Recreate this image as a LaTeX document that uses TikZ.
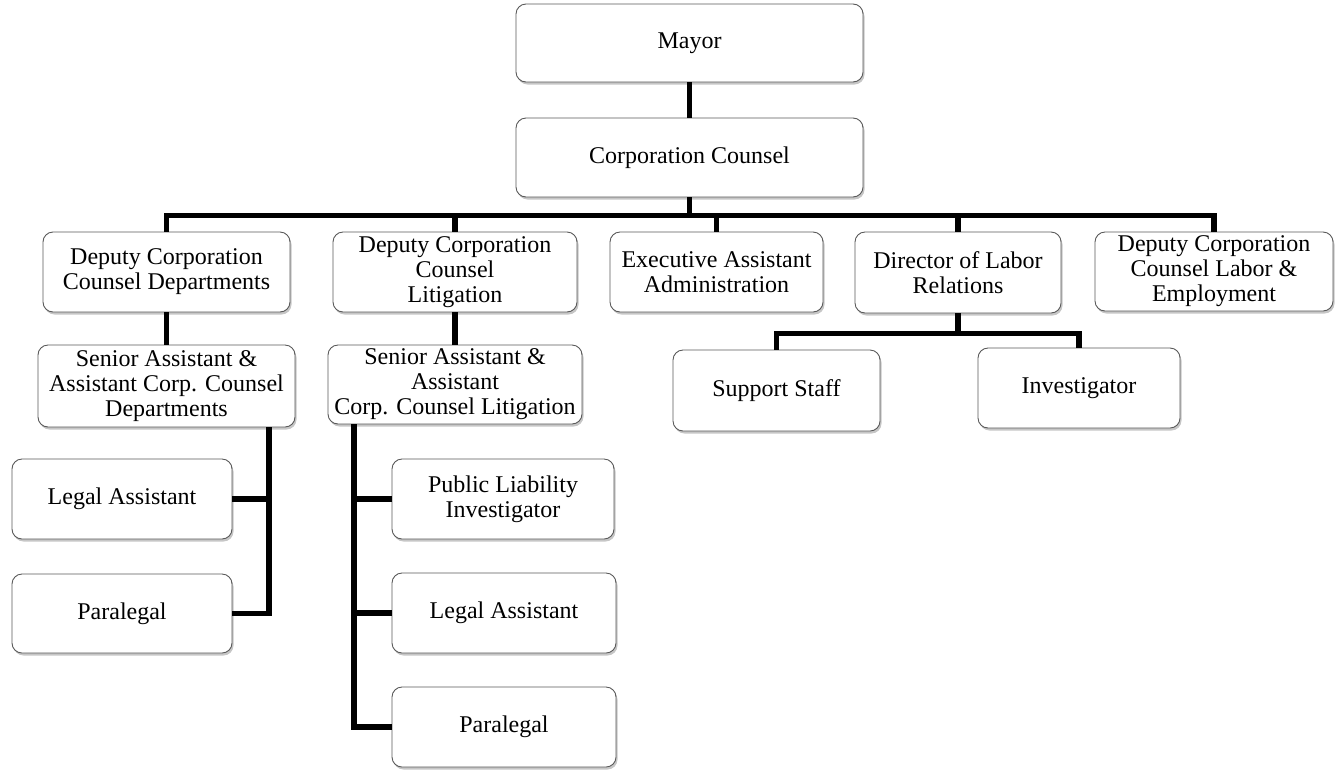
\documentclass[tikz,border=0pt]{standalone}
\usepackage{fontspec}
\setmainfont{Liberation Serif}
\usetikzlibrary{shadows}
\tikzset{
  box/.style={draw=gray!70!black, line width=0.9pt, rounded corners=10pt, fill=white,
    align=center, inner sep=2pt, font=\fontsize{24}{25}\selectfont,
    drop shadow={shadow xshift=1.5pt, shadow yshift=-2.5pt, opacity=0.45, fill=gray}},
  link/.style={line width=5.5pt, line join=miter, black}
}
\newcommand{\bx}[6]{\node[box, minimum width=#4pt, minimum height=#5pt] (#1) at (#2pt,-#3pt) {#6};}
\begin{document}
\begin{tikzpicture}
\useasboundingbox (0,0) rectangle (1335pt,-769pt);
\bx{mayor}{689.5}{43}{347}{78}{Mayor}
\bx{cc}{689.5}{157.5}{347}{79}{Corporation Counsel}
\bx{depdept}{166.5}{272}{247}{80}{Deputy Corporation\\Counsel Departments}
\bx{deplit}{455}{272}{244}{80}{Deputy Corporation\\Counsel\\Litigation}
\bx{exec}{716.5}{272}{213}{80}{Executive Assistant\\Administration}
\bx{dir}{958}{272.5}{206}{81}{Director of Labor\\Relations}
\bx{deplab}{1214}{271.5}{238}{79}{Deputy Corporation\\Counsel Labor \&\\Employment}
\bx{srdept}{166.5}{386}{257}{82}{Senior Assistant \&\\Assistant Corp. Counsel\\Departments}
\bx{srlit}{455}{384.5}{254}{79}{Senior Assistant \&\\Assistant\\Corp. Counsel Litigation}
\bx{support}{776.5}{390.5}{207}{81}{Support Staff}
\bx{invest}{1079}{388}{202}{80}{Investigator}
\bx{legalA}{122}{499}{220}{80}{Legal Assistant}
\bx{paraA}{122}{613.5}{220}{79}{Paralegal}
\bx{publiab}{503}{499}{222}{80}{Public Liability\\Investigator}
\bx{legalB}{504}{613}{224}{80}{Legal Assistant}
\bx{paraB}{504}{727}{224}{80}{Paralegal}
\coordinate (dv) at (269pt,0);
\coordinate (lv) at (354pt,0);
\draw[link] (mayor.south) -- (cc.north);
\foreach \c in {depdept,deplit,exec,dir,deplab}
  \draw[link] (cc.south) -- ++(0,-18pt) -| (\c.north);
\draw[link] (depdept.south) -- (srdept.north);
\draw[link] (deplit.south) -- (srlit.north);
\draw[link] (dir.south) -- ++(0,-20pt) -| (support.north);
\draw[link] (dir.south) -- ++(0,-20pt) -| (invest.north);
\draw[link] (srdept.south -| dv) |- (legalA.east);
\draw[link] (srdept.south -| dv) |- (paraA.east);
\draw[link] (srlit.south -| lv) |- (publiab.west);
\draw[link] (srlit.south -| lv) |- (legalB.west);
\draw[link] (srlit.south -| lv) |- (paraB.west);
\end{tikzpicture}
\end{document}
